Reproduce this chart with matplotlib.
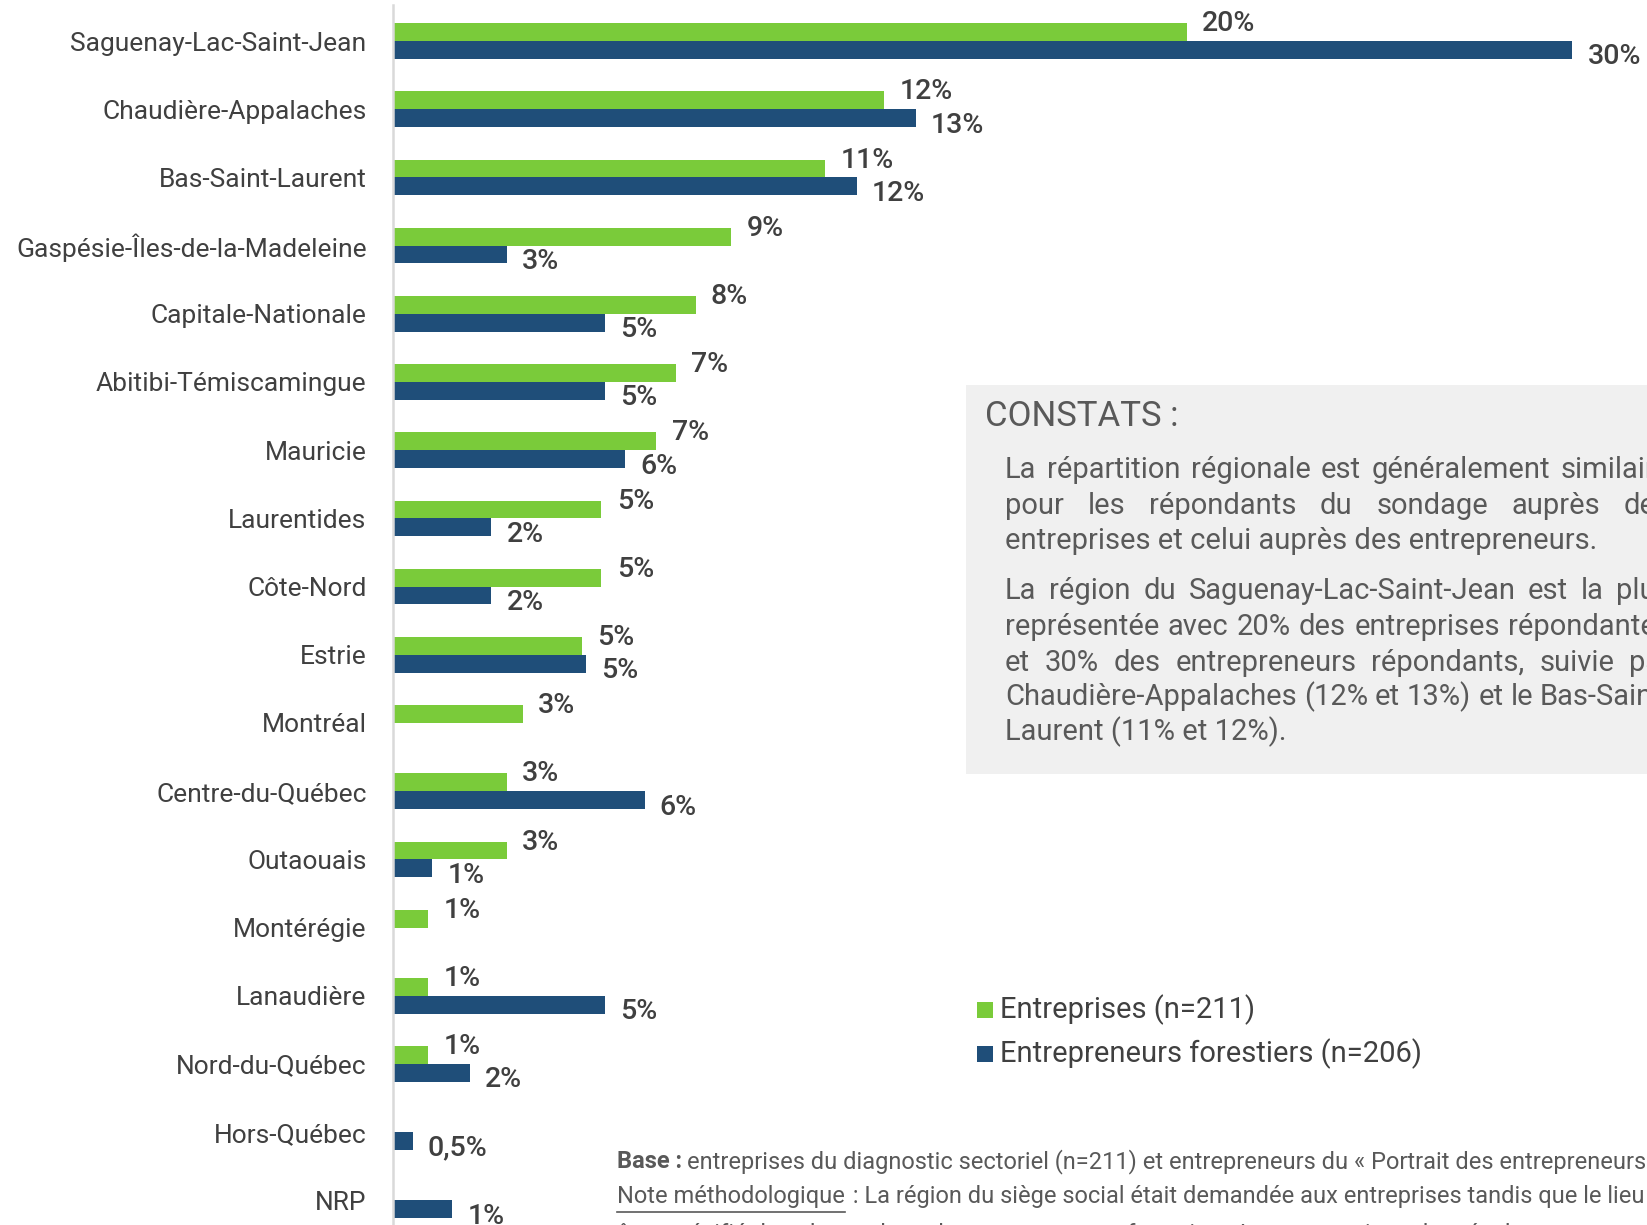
import matplotlib
matplotlib.use('Agg')
import matplotlib.pyplot as plt
from matplotlib.patches import Rectangle
from matplotlib.lines import Line2D
import numpy as np

plt.rcParams['font.family'] = ['Roboto', 'DejaVu Sans']

categories = ['Saguenay-Lac-Saint-Jean', 'Chaudière-Appalaches', 'Bas-Saint-Laurent',
              'Gaspésie-Îles-de-la-Madeleine', 'Capitale-Nationale', 'Abitibi-Témiscamingue',
              'Mauricie', 'Laurentides', 'Côte-Nord', 'Estrie', 'Montréal', 'Centre-du-Québec',
              'Outaouais', 'Montérégie', 'Lanaudière', 'Nord-du-Québec', 'Hors-Québec', 'NRP']
entreprises = [20.2, 12.5, 11.0, 8.6, 7.7, 7.2, 6.7, 5.3, 5.3, 4.8, 3.3, 2.9, 2.9,
               0.9, 0.9, 0.9, np.nan, np.nan]
entreprises_labels = ['20%', '12%', '11%', '9%', '8%', '7%', '7%', '5%', '5%', '5%', '3%',
                      '3%', '3%', '1%', '1%', '1%', '', '']
entrepreneurs = [30.0, 13.3, 11.8, 2.9, 5.4, 5.4, 5.9, 2.5, 2.5, 4.9, np.nan, 6.4, 1.0,
                 np.nan, 5.4, 1.95, 0.5, 1.5]
entrepreneurs_labels = ['30%', '13%', '12%', '3%', '5%', '5%', '6%', '2%', '2%', '5%', '',
                        '6%', '1%', '', '5%', '2%', '0,5%', '1%']
legend_labels = ['Entreprises (n=211)', 'Entrepreneurs forestiers (n=206)']

GREEN = '#7ACB3A'
BLUE = '#1F4E79'
DARK = '#404040'
GRAY = '#595959'

W, H = 1647, 1225
fig = plt.figure(figsize=(W / 100, H / 100), dpi=100)

# axes: left at px 393, top at px 5
ax = fig.add_axes([393 / W, 0, (W - 393) / W, (H - 5) / H])
y = np.arange(len(categories))
h = 0.262
ax.barh(y - h / 2, np.nan_to_num(entreprises), height=h, color=GREEN)
ax.barh(y + h / 2, np.nan_to_num(entrepreneurs), height=h, color=BLUE)
ax.set_xlim(0, 31.9)
ax.set_ylim((H - 41) / 68.2, (5 - 41) / 68.2)
ax.set_yticks(y)
ax.set_yticklabels(categories, fontsize=19, color=DARK)
ax.tick_params(axis='y', length=0, pad=19)
ax.set_xticks([])
for s in ['top', 'right', 'bottom']:
    ax.spines[s].set_visible(False)
ax.spines['left'].set_color('#d9d9d9')
ax.spines['left'].set_linewidth(1.8)

for i, (v, lab) in enumerate(zip(entreprises, entreprises_labels)):
    if lab:
        ax.annotate(lab, (v, i - h / 2), xytext=(11, 6), textcoords='offset points',
                    va='center', ha='left', fontsize=20.5, color=DARK, fontweight='medium',
                    annotation_clip=False)
for i, (v, lab) in enumerate(zip(entrepreneurs, entrepreneurs_labels)):
    if lab:
        ax.annotate(lab, (v, i + h / 2), xytext=(11, -5), textcoords='offset points',
                    va='center', ha='left', fontsize=20.5, color=DARK, fontweight='medium',
                    annotation_clip=False)

# Constats box
fig.patches.append(Rectangle((966 / W, 1 - 774 / H), (W - 966) / W, (774 - 385) / H,
                             transform=fig.transFigure, facecolor='#f0f0f0',
                             edgecolor='none', zorder=0))
fig.text(985 / W, 1 - 416 / H, 'CONSTATS :', fontsize=25, color=GRAY, va='center', ha='left')

renderer = fig.canvas.get_renderer()
PFS = 21


def draw_line(line, ypx, justify, x0=1005, width=666):
    words = line.split(' ')
    if not justify or len(words) == 1:
        fig.text(x0 / W, 1 - ypx / H, line, fontsize=PFS, color=GRAY, va='center', ha='left')
        return
    texts = [fig.text(0, 1 - ypx / H, w, fontsize=PFS, color=GRAY, va='center', ha='left')
             for w in words]
    widths = [t.get_window_extent(renderer).width for t in texts]
    gap = (width - sum(widths)) / (len(words) - 1)
    x = x0
    for t, wd in zip(texts, widths):
        t.set_x(x / W)
        x += wd + gap


para = [
    ('La répartition régionale est généralement similaire', 470, True),
    ('pour les répondants du sondage auprès des', 506, True),
    ('entreprises et celui auprès des entrepreneurs.', 541, False),
    ('La région du Saguenay-Lac-Saint-Jean est la plus', 591, True),
    ('représentée avec 20% des entreprises répondantes', 627, True),
    ('et 30% des entrepreneurs répondants, suivie par', 663, True),
    ('Chaudière-Appalaches (12% et 13%) et le Bas-Saint-', 697, True),
    ('Laurent (11% et 12%).', 732, False),
]
for line, ypx, j in para:
    draw_line(line, ypx, j)

# Legend
for k, (col, lab) in enumerate(zip([GREEN, BLUE], legend_labels)):
    yc = 1010 + k * 44
    fig.patches.append(Rectangle((977 / W, 1 - (yc + 8) / H), 16 / W, 16 / H,
                                 transform=fig.transFigure, facecolor=col,
                                 edgecolor='none'))
    fig.text(1000 / W, 1 - yc / H, lab, fontsize=21, color=DARK, va='center', ha='left')

# Notes
NFS = 17
tb = fig.text(617 / W, 1 - 1162 / H, 'Base :', fontsize=NFS, color=GRAY, fontweight='bold',
              va='center', ha='left')
bw = tb.get_window_extent(renderer).width
fig.text((617 + bw + 5) / W, 1 - 1162 / H,
         'entreprises du diagnostic sectoriel (n=211) et entrepreneurs du « Portrait des entrepreneurs forestiers »',
         fontsize=NFS, color=GRAY, va='center', ha='left')
tn = fig.text(617 / W, 1 - 1197 / H, 'Note méthodologique', fontsize=NFS, color=GRAY,
              va='center', ha='left')
nb = tn.get_window_extent(renderer)
fig.lines.append(Line2D([617 / W, (617 + nb.width) / W], [1 - 1212 / H, 1 - 1212 / H],
                        transform=fig.transFigure, color=GRAY, linewidth=1.2))
fig.text((617 + nb.width + 2) / W, 1 - 1197 / H,
         ' : La région du siège social était demandée aux entreprises tandis que le lieu de résidence',
         fontsize=NFS, color=GRAY, va='center', ha='left')
fig.text(617 / W, 1 - 1234 / H,
         'être spécifié dans le sondage des entrepreneurs forestiers. La comparaison des résultats est possible',
         fontsize=NFS, color=GRAY, va='center', ha='left')

fig.savefig('out.png', dpi=100, facecolor='white')
